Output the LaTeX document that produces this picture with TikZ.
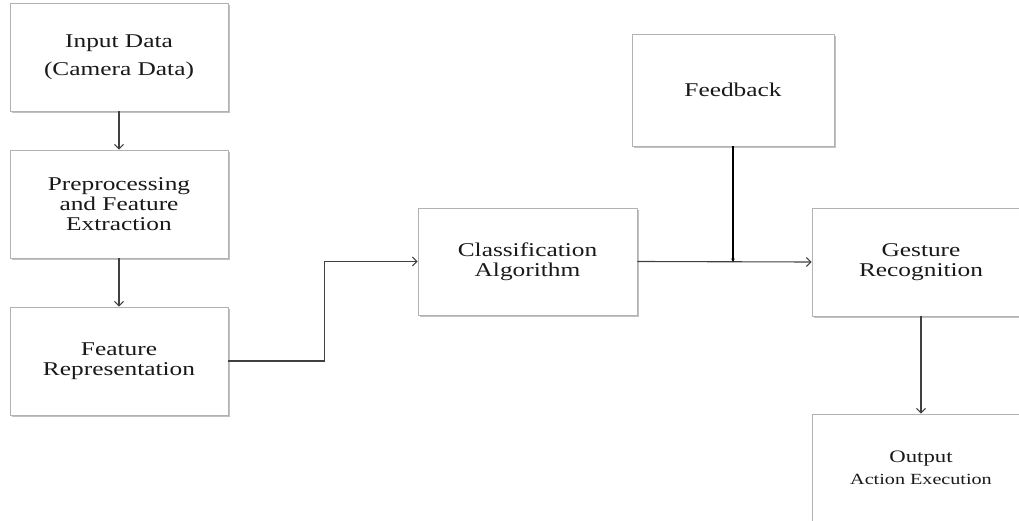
\documentclass[tikz,border=0pt]{standalone}
\usepackage{fontspec}
\setmainfont{Liberation Serif}[FakeStretch=1.3]
\usetikzlibrary{arrows.meta,shadows}
\begin{document}
\begin{tikzpicture}[x=1pt,y=-1pt,
  box/.style={draw=black!30, line width=0.8pt, fill=white, minimum width=218pt, minimum height=108pt,
    align=center, inner sep=0pt, text=black!90,
    drop shadow={shadow xshift=1.6pt, shadow yshift=-1.6pt, fill=black!35, opacity=0.7},
    font=\fontsize{19.5}{20}\selectfont},
  conn/.style={draw=black!75, line width=1.1pt, -{Straight Barb[length=4.5pt,width=9pt,line width=1pt]}},
  fbconn/.style={draw=black, line width=2.6pt, -{Latex[length=4pt,width=4pt]}, shorten >=-1pt}]
\useasboundingbox (0,0) rectangle (1019,521);
\node[box] (in) at (119,57) {Input Data\\[8pt](Camera Data)};
\node[box] (pre) at (119,204) {Preprocessing\\and Feature\\Extraction};
\node[box] (rep) at (119,361) {Feature\\Representation};
\node[box, minimum width=219pt, minimum height=107pt] (cls) at (527.5,261.5) {Classification\\Algorithm};
\node[box, minimum width=202pt, minimum height=112pt] (fb) at (733,90) {Feedback};
\node[box] (ges) at (921,262) {Gesture\\Recognition};
\node[box, font=\fontsize{17.5}{22}\selectfont] (out) at (921,468) {Output\\{\fontsize{15.5}{18}\selectfont Action Execution}};
\draw[conn] (in.south) -- (pre.north);
\draw[conn] (pre.south) -- (rep.north);
\draw[conn] (rep.east) -- ++(96,0) |- (cls.west);
\draw[conn] (cls.east) -- (ges.west);
\coordinate (j) at (fb.south |- cls.east);
\draw[fbconn] (fb.south) -- (j);
\draw[conn] (ges.south) -- (out.north);
\end{tikzpicture}
\end{document}
